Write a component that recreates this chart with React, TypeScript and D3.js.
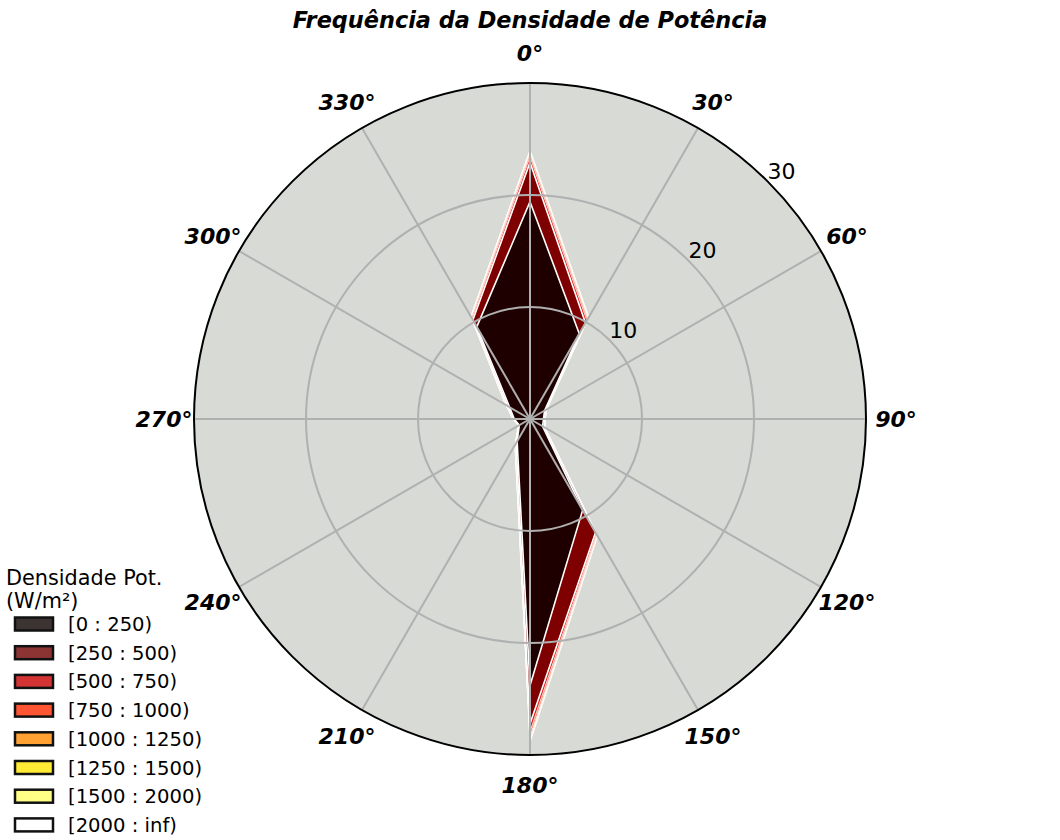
import React, { useRef, useEffect } from 'react';
import * as d3 from 'd3';

// direções (graus, 0 = norte, sentido horário)
const directions = [0, 30, 60, 90, 120, 150, 180, 210, 240, 270, 300, 330];

// frequência (%) por faixa de densidade de potência
const bin0 = [19.4, 8.8, 1.5, 1.2, 1.3, 9.4, 23.8, 2.3, 1.1, 1.4, 2.1, 9.5];
const bin1 = [3.5, 1.1, 0.1, 0.1, 0.15, 2.3, 3.4, 0.2, 0.05, 0.05, 0.2, 0.7];
const bin2 = [0.5, 0.25, 0.05, 0.03, 0.05, 0.15, 0.7, 0.08, 0.02, 0.03, 0.1, 0.15];
const bin3 = [0.3, 0.15, 0.03, 0.02, 0.03, 0.1, 0.45, 0.05, 0.01, 0.02, 0.05, 0.1];
const bin4 = [0.15, 0.1, 0.02, 0.01, 0.02, 0.06, 0.25, 0.03, 0.01, 0.01, 0.03, 0.06];
const bin5 = [0.08, 0.05, 0.01, 0.01, 0.01, 0.03, 0.12, 0.02, 0, 0.01, 0.02, 0.03];
const bin6 = [0.06, 0.04, 0.01, 0, 0.01, 0.02, 0.1, 0.01, 0, 0, 0.01, 0.02];
const bin7 = [0.04, 0.02, 0, 0, 0, 0.01, 0.08, 0.01, 0, 0, 0.01, 0.01];
const bins = [bin0, bin1, bin2, bin3, bin4, bin5, bin6, bin7];

const binLabels = ['[0 : 250)', '[250 : 500)', '[500 : 750)', '[750 : 1000)',
  '[1000 : 1250)', '[1250 : 1500)', '[1500 : 2000)', '[2000 : inf)'];
const fillColors = ['#1f0000', '#7f0000', '#e01818', '#ff7050', '#ffb070', '#ffd8a0', '#ffe8d0', '#fff4ee'];
const legendColors = ['#3c3333', '#8c3333', '#d33333', '#ff5533', '#ffa133', '#ffeb33', '#ffff85', '#ffffff'];

const rTicks = [10, 20, 30];
const rMax = 30;

const App = () => {
  const svgRef = useRef<SVGSVGElement>(null);

  useEffect(() => {
    const svg = d3.select(svgRef.current);
    svg.selectAll('*').remove();

    const cx = 530, cy = 419, R = 336;
    const font = 'DejaVu Sans, sans-serif';
    const r = d3.scaleLinear().domain([0, rMax]).range([0, R]);

    svg.append('text')
      .attr('x', cx).attr('y', 28)
      .attr('text-anchor', 'middle')
      .style('font-family', font).style('font-size', '22.4px')
      .style('font-weight', 'bold').style('font-style', 'italic')
      .text('Frequência da Densidade de Potência');

    const g = svg.append('g').attr('transform', `translate(${cx},${cy})`);

    g.append('circle').attr('r', R).attr('fill', '#d7dad5');

    // stacks acumulados
    const cum = bins.map((_, i) => directions.map((__, j) => d3.sum(bins.slice(0, i + 1), b => b[j])));

    const line = d3.lineRadial<number>()
      .angle((_, j) => directions[j] * Math.PI / 180)
      .radius(v => r(v))
      .curve(d3.curveLinearClosed);

    for (let i = bins.length - 1; i >= 0; i--) {
      g.append('path')
        .attr('d', line(cum[i]))
        .attr('fill', fillColors[i])
        .attr('stroke', 'white')
        .attr('stroke-width', i < 2 ? 1.6 : 0.8)
        .attr('stroke-linejoin', 'miter');
    }

    // grade
    rTicks.slice(0, -1).forEach(t => {
      g.append('circle').attr('r', r(t)).attr('fill', 'none')
        .attr('stroke', '#b0b0b0').attr('stroke-width', 2);
    });
    directions.forEach(d => {
      const a = d * Math.PI / 180;
      g.append('line')
        .attr('x1', 0).attr('y1', 0)
        .attr('x2', R * Math.sin(a)).attr('y2', -R * Math.cos(a))
        .attr('stroke', '#b0b0b0').attr('stroke-width', 2);
    });
    g.append('circle').attr('r', R).attr('fill', 'none')
      .attr('stroke', 'black').attr('stroke-width', 2);

    // rótulos angulares
    directions.forEach(d => {
      const a = d * Math.PI / 180;
      g.append('text')
        .attr('x', 366 * Math.sin(a)).attr('y', -366 * Math.cos(a))
        .attr('text-anchor', 'middle').attr('dy', '0.36em')
        .style('font-family', font).style('font-size', '22px')
        .style('font-weight', 'bold').style('font-style', 'italic')
        .text(`${d}°`);
    });

    // rótulos radiais
    rTicks.forEach(t => {
      const a = 45 * Math.PI / 180;
      g.append('text')
        .attr('x', r(t) * Math.sin(a)).attr('y', -r(t) * Math.cos(a))
        .attr('text-anchor', 'start').attr('dy', '-0.1em')
        .style('font-family', font).style('font-size', '22px')
        .text(t);
    });

    // legenda
    const lg = svg.append('g');
    lg.append('text').attr('x', 6).attr('y', 585)
      .style('font-family', font).style('font-size', '20.8px').text('Densidade Pot.');
    lg.append('text').attr('x', 6).attr('y', 608)
      .style('font-family', font).style('font-size', '20.8px').text('(W/m²)');
    binLabels.forEach((lab, i) => {
      const y = 624 + i * 28.7;
      lg.append('rect').attr('x', 15).attr('y', y - 6.5).attr('width', 38).attr('height', 13)
        .attr('fill', legendColors[i]).attr('stroke', '#111').attr('stroke-width', 2.5);
      lg.append('text').attr('x', 68).attr('y', y).attr('dy', '0.36em')
        .style('font-family', font).style('font-size', '19.6px').text(lab);
    });
  }, []);

  return (
    <svg ref={svgRef} width={1060} height={840}
      style={{ position: 'absolute', left: 0, top: 0, background: 'white' }} />
  );
};

export default App;
